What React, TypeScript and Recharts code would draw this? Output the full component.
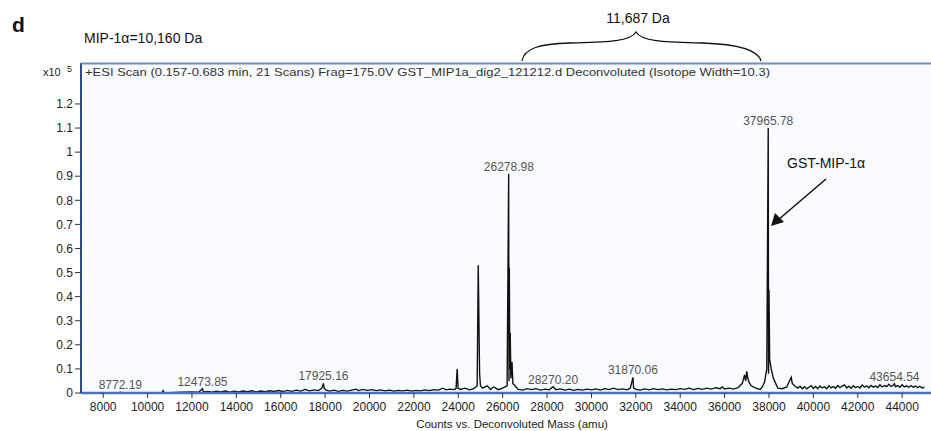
import React from 'react';
import {
  LineChart,
  Line,
  XAxis,
  YAxis,
  CartesianGrid,
  ReferenceDot,
} from 'recharts';

// deconvoluted mass (Da) and counts (x10^5)
const mass = [
  7000, 8770, 8772, 8775, 10650, 10700, 10750, 11500, 12000, 12300, 12470, 12520,
  12700, 12900, 13100, 13300, 13500, 13700, 13900, 14100, 14300, 14500, 14700, 14900,
  15100, 15300, 15500, 15700, 15900, 16100, 16300, 16500, 16700, 16900, 17100, 17300,
  17500, 17700, 17850, 17925, 17960, 18050, 18200, 18400, 18600, 18800, 19000, 19200,
  19400, 19500, 19700, 19900, 20100, 20300, 20500, 20700, 20900, 21100, 21300, 21500,
  21700, 21900, 22100, 22300, 22500, 22700, 22900, 23100, 23300, 23450, 23600, 23800,
  23900, 23950, 23990, 24100, 24300, 24500, 24700, 24850, 24900, 24930, 24960, 25000,
  25100, 25300, 25450, 25600, 25800, 26000, 26200, 26270, 26285, 26300, 26320, 26340,
  26370, 26420, 26460, 26550, 26700, 26900, 27100, 27300, 27500, 27700, 27900, 28100,
  28270, 28400, 28600, 28800, 29000, 29200, 29400, 29600, 29800, 30000, 30200, 30400,
  30600, 30800, 31000, 31200, 31400, 31600, 31750, 31870, 31900, 32000, 32200, 32400,
  32600, 32800, 33000, 33200, 33400, 33600, 33800, 34000, 34200, 34400, 34600, 34800,
  35000, 35200, 35400, 35600, 35800, 35900, 36000, 36200, 36400, 36600, 36800, 36900,
  36950, 37000, 37050, 37100, 37200, 37400, 37600, 37700, 37800, 37900, 37966, 37980,
  38000, 38030, 38100, 38200, 38300, 38400, 38600, 38800, 38950, 39000, 39050, 39150,
  39300, 39400, 39500, 39600, 39700, 39800, 39900,
  40000, 40100, 40200, 40300, 40400, 40500, 40600, 40700, 40800, 40900,
  41000, 41100, 41200, 41300, 41400, 41500, 41600, 41700, 41800, 41900,
  42000, 42100, 42200, 42300, 42400, 42500, 42600, 42700, 42800, 42900,
  43000, 43100, 43200, 43300, 43400, 43500, 43600, 43654,
  43700, 43800, 43900, 44000, 44100, 44200, 44300, 44400, 44500, 44600, 44700, 44800, 44900, 45000,
];

const counts = [
  0, 0, 0.006, 0, 0, 0.01, 0, 0.003, 0.004, 0.003, 0.018, 0.004,
  0.006, 0.003, 0.007, 0.004, 0.008, 0.003, 0.007, 0.004, 0.008, 0.005, 0.009, 0.004,
  0.008, 0.005, 0.009, 0.006, 0.01, 0.006, 0.011, 0.007, 0.012, 0.008, 0.015, 0.009,
  0.013, 0.01, 0.02, 0.04, 0.018, 0.012, 0.008, 0.012, 0.007, 0.011, 0.008, 0.012,
  0.016, 0.01, 0.015, 0.011, 0.014, 0.01, 0.013, 0.009, 0.012, 0.008, 0.011, 0.009,
  0.012, 0.008, 0.011, 0.009, 0.013, 0.01, 0.014, 0.012, 0.02, 0.013, 0.016, 0.014,
  0.018, 0.1, 0.02, 0.015, 0.02, 0.013, 0.018, 0.03, 0.53, 0.3, 0.08, 0.03,
  0.02, 0.03, 0.015, 0.025, 0.014, 0.02, 0.03, 0.91, 0.05, 0.52, 0.1, 0.25,
  0.06, 0.13, 0.04, 0.03, 0.015, 0.012, 0.018, 0.014, 0.018, 0.012, 0.016, 0.013,
  0.026, 0.014, 0.017, 0.012, 0.016, 0.011, 0.015, 0.012, 0.016, 0.013, 0.017, 0.012,
  0.018, 0.014, 0.02, 0.014, 0.017, 0.013, 0.02, 0.065, 0.02, 0.015, 0.012, 0.017,
  0.013, 0.018, 0.014, 0.017, 0.013, 0.016, 0.014, 0.018, 0.015, 0.02, 0.014, 0.019,
  0.015, 0.02, 0.016, 0.022, 0.018, 0.025, 0.017, 0.02, 0.016, 0.022, 0.04, 0.075,
  0.05, 0.09, 0.06, 0.045, 0.03, 0.02, 0.015, 0.025, 0.045, 0.1, 1.1, 0.08,
  0.43, 0.14, 0.1, 0.06, 0.04, 0.02, 0.018, 0.025, 0.055, 0.065, 0.04, 0.03,
  0.02, 0.028, 0.018, 0.026, 0.017, 0.024, 0.03,
  0.019, 0.027, 0.018, 0.029, 0.021, 0.026, 0.018, 0.03, 0.021, 0.027,
  0.02, 0.031, 0.022, 0.029, 0.034, 0.021, 0.028, 0.02, 0.03, 0.022,
  0.027, 0.021, 0.033, 0.024, 0.03, 0.022, 0.031, 0.024, 0.029, 0.023,
  0.034, 0.025, 0.031, 0.026, 0.036, 0.027, 0.032, 0.038,
  0.026, 0.031, 0.024, 0.034, 0.025, 0.03, 0.023, 0.031, 0.024, 0.029, 0.022, 0.028, 0.021, 0.024,
];

const labelMass = [8772.19, 12473.85, 17925.16, 26278.98, 28270.2, 31870.06, 37965.78, 43654.54];
const labelText = ['8772.19', '12473.85', '17925.16', '26278.98', '28270.20', '31870.06', '37965.78', '43654.54'];
const labelCounts = [0.006, 0.018, 0.04, 0.91, 0.026, 0.065, 1.1, 0.038];

const xTicks = [8000, 10000, 12000, 14000, 16000, 18000, 20000, 22000, 24000, 26000, 28000, 30000, 32000, 34000, 36000, 38000, 40000, 42000, 44000];
const yTicks = [0, 0.1, 0.2, 0.3, 0.4, 0.5, 0.6, 0.7, 0.8, 0.9, 1, 1.1, 1.2];

const data = mass.map((m, i) => ({ x: m, y: counts[i] }));

export default function App() {
  return (
    <div
      style={{
        position: 'absolute',
        left: 0,
        top: 0,
        width: 931,
        height: 431,
        background: '#fff',
        fontFamily: '"Liberation Sans", Arial, sans-serif',
      }}
    >
      <LineChart width={931} height={431} data={data} margin={{ top: 63, right: 0, left: 31, bottom: 0 }}>
        <CartesianGrid horizontal={false} vertical={false} fill="#f9fbfe" />
        <XAxis
          dataKey="x"
          type="number"
          domain={[7000, 45300]}
          ticks={xTicks}
          allowDataOverflow
          height={38}
          tickSize={5}
          tickMargin={4}
          tick={{ fontSize: 12, fill: '#222' }}
          tickLine={{ stroke: '#333' }}
          axisLine={{ stroke: '#4b72b8', strokeWidth: 2.5 }}
        />
        <YAxis
          type="number"
          domain={[0, 1.37]}
          ticks={yTicks}
          allowDataOverflow
          width={50}
          tickSize={6}
          tickMargin={2}
          tick={{ fontSize: 12, fill: '#222' }}
          tickLine={{ stroke: '#333' }}
          axisLine={{ stroke: '#2c4a85', strokeWidth: 2 }}
          tickFormatter={(v: number) => String(v)}
        />
        <Line
          type="linear"
          dataKey="y"
          stroke="#111"
          strokeWidth={1.4}
          dot={false}
          isAnimationActive={false}
        />
        {labelMass.map((m, i) => (
          <ReferenceDot
            key={labelText[i]}
            x={m}
            y={labelCounts[i]}
            r={0}
            stroke="none"
            fill="none"
            ifOverflow="visible"
            label={{ value: labelText[i], position: 'top', offset: 3, fill: '#555', fontSize: 12 }}
          />
        ))}
      </LineChart>

      {/* annotations around the spectrum */}
      <svg
        width={931}
        height={431}
        style={{ position: 'absolute', left: 0, top: 0, pointerEvents: 'none' }}
      >
        <line x1={81} y1={63.5} x2={931} y2={63.5} stroke="#6d8dc9" strokeWidth={2} />
        <text x={12} y={32} fontSize={21} fontWeight="bold" fill="#111">d</text>
        <text x={84} y={43} fontSize={14} fill="#111">MIP-1α=10,160 Da</text>
        <text x={638} y={23} fontSize={14} fill="#111" textAnchor="middle">11,687 Da</text>
        <path
          d="M522,61 C524,48 540,44 570,43 C605,42 630,42 636,32 C642,42 667,42 702,43 C732,44 758,48 761,61"
          fill="none"
          stroke="#111"
          strokeWidth={1.3}
        />
        <text x={43} y={76} fontSize={11} fill="#222">x10</text>
        <text x={67} y={72} fontSize={9} fill="#222">5</text>
        <text x={85} y={76} fontSize={11.5} fill="#333" textLength={685} lengthAdjust="spacingAndGlyphs">
          +ESI Scan (0.157-0.683 min, 21 Scans) Frag=175.0V GST_MIP1a_dig2_121212.d  Deconvoluted (Isotope Width=10.3)
        </text>
        <text x={787} y={168} fontSize={14} fill="#111">GST-MIP-1α</text>
        <line x1={826} y1={179} x2={778} y2={220} stroke="#111" strokeWidth={1.5} />
        <polygon points="771,226 775,213 784,222" fill="#111" />
        <text x={512} y={428} fontSize={11.5} fill="#222" textAnchor="middle">
          Counts vs. Deconvoluted Mass (amu)
        </text>
      </svg>
    </div>
  );
}
